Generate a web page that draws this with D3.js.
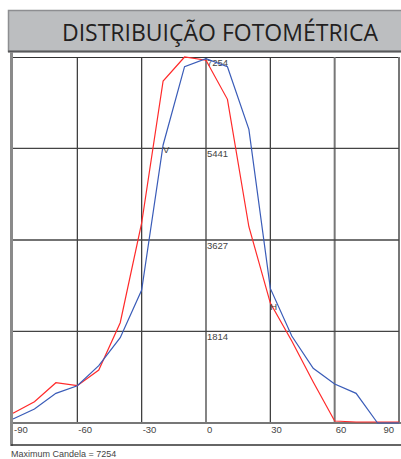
<!DOCTYPE html>
<html><head><meta charset="utf-8">
<script src="https://cdn.jsdelivr.net/npm/d3@7"></script>
<style>body{margin:0;background:#fff}svg{display:block}</style>
</head><body>
<script>
const title = "DISTRIBUIÇÃO FOTOMÉTRICA";
const angles = [-90,-80,-70,-60,-50,-40,-30,-20,-10,0,10,20,30,40,50,60,70,80,90];
const blueValues = [79,277,588,739,1136,1691,2636,5510,7062,7220,7062,5819,2668,1724,1083,772,588,0,0];
const redValues  = [192,422,798,739,1050,1987,3964,6778,7254,7190,6415,3890,2376,1624,812,40,20,20,20];
const xTicks = [-90,-60,-30,0,30,60,90];
const yTicks = [1814,3627,5441,7254];
const maxCandela = 7254;
const footer = "Maximum Candela = 7254";

const W=401,H=459;
const svg=d3.select("body").append("svg").attr("width",W).attr("height",H);
const x=d3.scaleLinear().domain([-90,90]).range([13,399]);
const y=d3.scaleLinear().domain([0,maxCandela]).range([423,57]);

// title box
svg.append("rect").attr("x",8.5).attr("y",10.5).attr("width",400).attr("height",41)
  .attr("fill","#bcbec0").attr("stroke","#8d8e91").attr("stroke-width",1.5);
svg.append("line").attr("x1",8).attr("x2",401).attr("y1",51.5).attr("y2",51.5)
  .attr("stroke","#58595b").attr("stroke-width",2);
svg.append("text").attr("x",220).attr("y",40.5).attr("text-anchor","middle")
  .attr("font-family","Open Sans").attr("font-size",23).attr("fill","#231f20").text(title);

// outer frame
svg.append("line").attr("x1",11.5).attr("x2",11.5).attr("y1",52).attr("y2",446)
  .attr("stroke","#8a8a8a").attr("stroke-width",3);
svg.append("line").attr("x1",11).attr("x2",401).attr("y1",445).attr("y2",445)
  .attr("stroke","#333").attr("stroke-width",1.3);
svg.append("line").attr("x1",13).attr("x2",398).attr("y1",57.5).attr("y2",57.5)
  .attr("stroke","#333").attr("stroke-width",1);

// grid
const g=svg.append("g");
g.selectAll(".vx").data(xTicks.slice(1)).enter().append("line")
  .attr("x1",d=>x(d)).attr("x2",d=>x(d)).attr("y1",57).attr("y2",423)
  .attr("stroke",d=>d>=60?"#777":"#333").attr("stroke-width",d=>d>=60?2:1.2);
g.selectAll(".hy").data(yTicks.slice(0,3)).enter().append("line")
  .attr("x1",13).attr("x2",399).attr("y1",d=>y(d)).attr("y2",d=>y(d))
  .attr("stroke","#444").attr("stroke-width",1.3);
svg.append("line").attr("x1",13).attr("x2",401).attr("y1",y(0)).attr("y2",y(0))
  .attr("stroke","#777").attr("stroke-width",2);

// tick labels
svg.selectAll(".xl").data(xTicks).enter().append("text")
  .attr("x",d=>d===90?x(d)-5:x(d)+1).attr("y",433)
  .attr("text-anchor",d=>d===90?"end":"start")
  .attr("font-family","Liberation Sans, Arial").attr("font-size",9.5).attr("fill","#444")
  .text(d=>d);
svg.selectAll(".yl").data(yTicks).enter().append("text")
  .attr("x",x(0)+1).attr("y",d=>y(d)+9)
  .attr("font-family","Liberation Sans, Arial").attr("font-size",9.5).attr("fill","#444")
  .text(d=>d);

// curves
const pts=v=>angles.map((a,i)=>[a,v[i]]);
const line=d3.line().x(d=>x(d[0])).y(d=>y(d[1]));
svg.append("path").attr("d",line(pts(redValues))).attr("fill","none")
  .attr("stroke","#ff2a2a").attr("stroke-width",1.2);
svg.append("path").attr("d",line(pts(blueValues))).attr("fill","none")
  .attr("stroke","#3a5cb8").attr("stroke-width",1.2);

svg.append("text").attr("x",x(-20)).attr("y",y(5441)+5)
  .attr("font-family","Liberation Sans, Arial").attr("font-size",9.5).attr("fill","#444").text("V");
svg.append("text").attr("x",x(30)).attr("y",310)
  .attr("font-family","Liberation Sans, Arial").attr("font-size",9.5).attr("fill","#444").text("H");

svg.append("text").attr("x",11).attr("y",456.5)
  .attr("font-family","Liberation Sans, Arial").attr("font-size",9).attr("fill","#444").text(footer);
</script>
</body></html>
